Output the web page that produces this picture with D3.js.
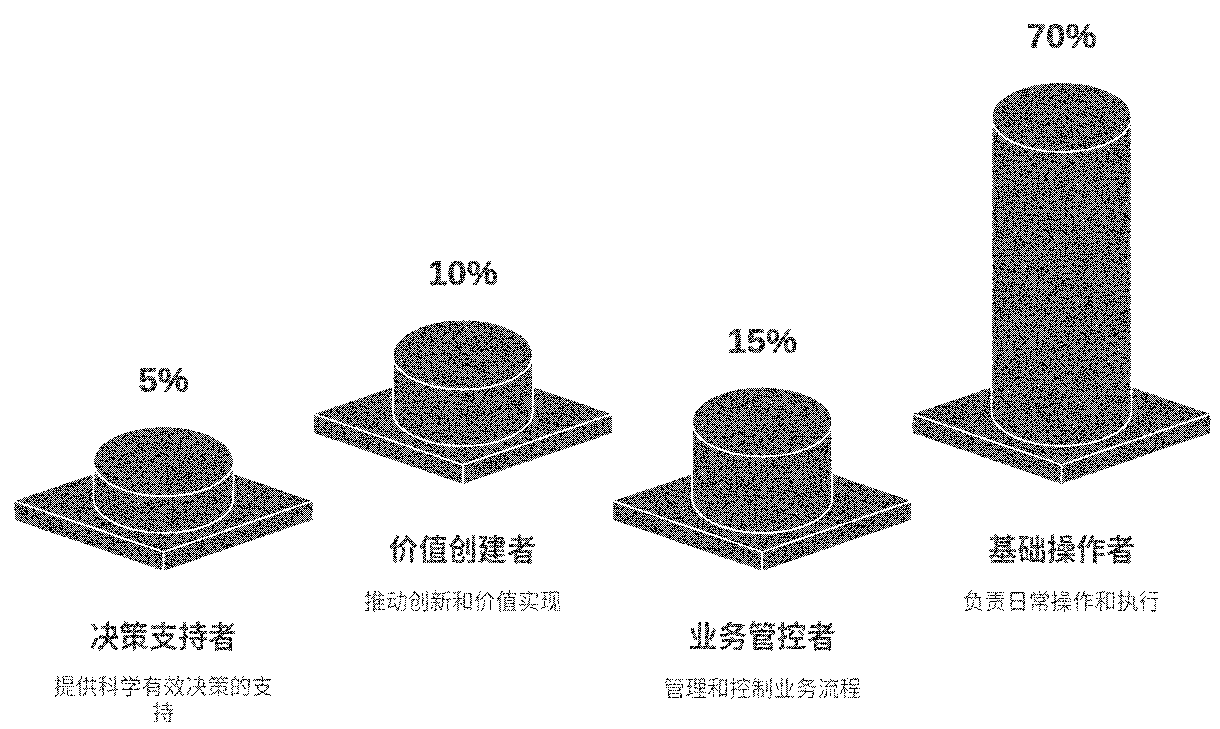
<!DOCTYPE html>
<html><head><meta charset="utf-8">
<script src="https://cdn.jsdelivr.net/npm/d3@7/dist/d3.min.js"></script>
<style>html,body{margin:0;padding:0;background:#fff}svg{display:block}
text{font-family:"Liberation Sans","Noto Sans CJK SC",sans-serif;text-anchor:middle}</style>
</head><body><svg id="c" width="1220" height="729"></svg>
<script>
const roles=["决策支持者","价值创建者","业务管控者","基础操作者"];
const shares=[5,10,15,70];
const notes=[["提供科学有效决策的支","持"],["推动创新和价值实现"],["管理和控制业务流程"],["负责日常操作和执行"]];

const W=1220,H=729;
const svg=d3.select("#c");
const defs=svg.append("defs");
const tile="data:image/svg+xml,"+encodeURIComponent('<svg xmlns="http://www.w3.org/2000/svg" width="2" height="2" shape-rendering="crispEdges"><rect width="2" height="2" fill="#000"/><rect width="1" height="1" fill="#fff"/><rect x="1" y="1" width="1" height="1" fill="#fff"/></svg>');
const f=defs.append("filter").attr("id","dither").attr("filterUnits","userSpaceOnUse").attr("primitiveUnits","userSpaceOnUse")
 .attr("x",0).attr("y",0).attr("width",W).attr("height",H).attr("color-interpolation-filters","sRGB");
f.append("feImage").attr("href",tile).attr("x",0).attr("y",0).attr("width",2).attr("height",2).attr("preserveAspectRatio","none").attr("result","t0");
f.append("feTile").attr("in","t0").attr("x",0).attr("y",0).attr("width",W).attr("height",H).attr("result","t");
f.append("feTurbulence").attr("type","fractalNoise").attr("baseFrequency",0.83).attr("numOctaves",1).attr("seed",7).attr("result","n0");
f.append("feColorMatrix").attr("in","n0").attr("type","matrix")
 .attr("values","1 0 0 0 0 1 0 0 0 0 1 0 0 0 0 0 0 0 0 1").attr("result","n");
f.append("feComposite").attr("in","SourceGraphic").attr("in2","t").attr("operator","arithmetic")
 .attr("k1",0).attr("k2",1).attr("k3",0.3).attr("k4",-0.15).attr("result","a");
f.append("feComposite").attr("in","a").attr("in2","n").attr("operator","arithmetic")
 .attr("k1",0).attr("k2",1).attr("k3",0.85).attr("k4",-0.425).attr("result","m");
const ct=f.append("feComponentTransfer").attr("in","m");
["feFuncR","feFuncG","feFuncB"].forEach(t=>ct.append(t).attr("type","discrete").attr("tableValues","0 1"));

const root=svg.append("g").attr("filter","url(#dither)");
root.append("rect").attr("width",W).attr("height",H).attr("fill","#fff");

const x=d3.scalePoint().domain(roles).range([163.5,1061.5]);
const hScale=d3.scaleLinear().domain([0,70]).range([17,294]);
const baseY=i=>i%2?414:501;
const HW=149,HH=51,TH=19,RX=70,RY=35,CYL=-3;
const MARK="#6a6a6a",TXT="#5f5f5f",EDGE=1.6;

const g=root.selectAll("g.p").data(roles).join("g").attr("class","p")
 .attr("transform",(d,i)=>`translate(${x(d)},${baseY(i)})`);
// slab
g.append("path").attr("d",`M${-HW},0L0,${-HH}L${HW},0V${TH}L0,${HH+TH}L${-HW},${TH}Z`).attr("fill",MARK);
g.append("path").attr("d",`M${-HW},0L0,${HH}L${HW},0M0,${HH}V${HH+TH}`).attr("fill","none").attr("stroke","#fff").attr("stroke-width",EDGE);
// cylinder
g.append("path").attr("d",(d,i)=>{const h=hScale(shares[i]);const c=CYL;
  return `M${-RX},${c}A${RX},${RY} 0 0 0 ${RX},${c}V${c-h}A${RX},${RY} 0 0 0 ${-RX},${c-h}Z`;})
 .attr("fill",MARK).attr("stroke","#fff").attr("stroke-width",EDGE);
g.append("ellipse").attr("cx",0).attr("cy",(d,i)=>CYL-hScale(shares[i])).attr("rx",RX).attr("ry",RY)
 .attr("fill",MARK).attr("stroke","#fff").attr("stroke-width",EDGE);
// value labels
g.append("text").attr("x",0).attr("y",(d,i)=>CYL-hScale(shares[i])-RY-34)
 .attr("font-size",35).attr("font-weight",700).attr("fill",TXT).attr("stroke",TXT).attr("stroke-width",0.7).text((d,i)=>shares[i]+"%");
// titles
g.append("text").attr("x",0).attr("y",146).attr("font-size",29.5).attr("font-weight",700).attr("fill",TXT).text(d=>d);
// descriptions
g.each(function(d,i){
  const s=d3.select(this);
  notes[i].forEach((l,k)=>s.append("text").attr("x",0).attr("y",(notes[i].length>1?193:195)+k*26)
    .attr("font-size",22).attr("fill",TXT).text(l));
});
</script></body></html>
